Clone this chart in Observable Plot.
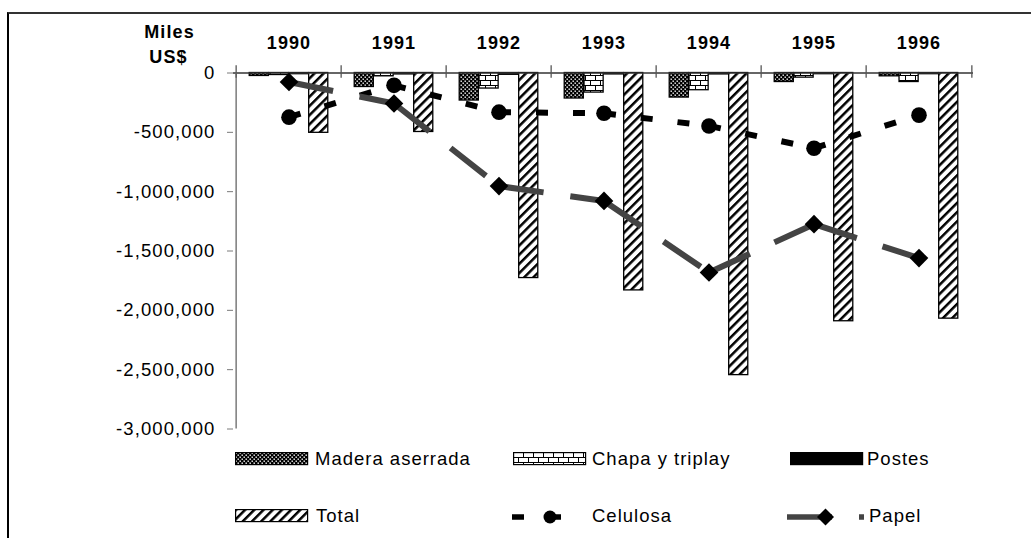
<!DOCTYPE html>
<html><head><meta charset="utf-8">
<script src="https://cdn.jsdelivr.net/npm/d3@7"></script>
<script src="https://cdn.jsdelivr.net/npm/@observablehq/plot@0.6"></script>
<style>
body{margin:0;background:#fff;font-family:Arial,"Liberation Sans",sans-serif;}
#wrap{position:relative;width:1031px;height:538px;overflow:hidden;background:#fff;}
#frame{position:absolute;left:7px;top:12px;width:1040px;height:600px;border-left:2px solid #000;border-top:2px solid #333;pointer-events:none;z-index:5;}
#chart{position:absolute;left:0;top:0;}
.leg{position:absolute;font-size:18.5px;letter-spacing:1px;line-height:24px;color:#000;white-space:nowrap;}
.sw{position:absolute;overflow:visible;}
g[aria-label="y-axis tick"]{stroke:#7a7a7a;}
</style></head>
<body><div id="wrap">
<svg width="0" height="0" style="position:absolute"><defs>
<pattern id="pMadera" patternUnits="userSpaceOnUse" width="4" height="4"><rect width="4" height="4" fill="#000"/><rect x="0.5" y="0.5" width="1.4" height="1.4" fill="#fff"/><rect x="2.5" y="2.5" width="1.4" height="1.4" fill="#fff"/></pattern>
<pattern id="pChapa" patternUnits="userSpaceOnUse" width="10" height="10"><rect width="10" height="10" fill="#fff"/><path d="M0,0.5H10M0,5.5H10M0.5,0V5M5.5,5V10" stroke="#000" stroke-width="1" fill="none"/></pattern>
<pattern id="pTotal" patternUnits="userSpaceOnUse" width="6.5" height="6.5" patternTransform="rotate(45)"><rect width="6.5" height="6.5" fill="#fff"/><rect width="2.5" height="6.5" fill="#000"/></pattern>
</defs></svg>
<div id="chart"></div>
<div id="legend"></div>
<div id="frame"></div>
</div>
<script>
// ---- data ----
const years = ["1990","1991","1992","1993","1994","1995","1996"];
const madera   = [-25000, -118000, -232000, -215000, -207000, -76000, -28000];
const chapa    = [-17000, -28000, -131000, -165000, -145000, -39000, -76000];
const postes   = [-10000, -12000, -15000, -12000, -12000, -10000, -10000];
const total    = [-504000, -497000, -1728000, -1832000, -2546000, -2092000, -2070000];
const celulosa = [-372000, -104000, -330000, -339000, -446000, -634000, -355000];
const papel    = [-76000, -257000, -953000, -1078000, -1681000, -1274000, -1560000];
const seriesNames = ["Madera aserrada","Chapa y triplay","Postes","Total","Celulosa","Papel"];
const yTicks = [0,-500000,-1000000,-1500000,-2000000,-2500000,-3000000];
const unitLines = ["Miles","US$"];

// ---- layout ----
const W = 1031, H = 440, mL = 233, mR = 58, mT = 72.5, mB = 11.5;
const bw = (W - mL - mR) / years.length;
const gap = 0.125, bar = 0.1875;
const barSeries = [madera, chapa, postes, total];
const barFills = ["url(#pMadera)","url(#pChapa)","#000","url(#pTotal)"];
const fmt = d => d3.format(",")(d).replace("\u2212","-");
const rows = vals => years.map((year,i)=>({year, value: vals[i]}));
const segs = vals => d3.range(years.length-1).flatMap(i=>[
  {year: years[i], value: vals[i], seg: i},
  {year: years[i+1], value: vals[i+1], seg: i}
]);

const chart = Plot.plot({
  width: W, height: H,
  marginLeft: mL, marginRight: mR, marginTop: mT, marginBottom: mB,
  style: {background: "transparent", fontFamily: "Arial, 'Liberation Sans', sans-serif", fontSize: "18.5px", letterSpacing: "1.1px", color: "#000", overflow: "visible"},
  x: {type: "band", domain: years, padding: 0, axis: null},
  y: {domain: [yTicks[yTicks.length-1], 0], ticks: yTicks, tickSize: 6, tickPadding: 12, tickFormat: fmt, label: null},
  marks: [
    ...barSeries.map((vals,k) => Plot.barY(rows(vals), {
      x: "year", y: "value", fill: barFills[k], stroke: "#000", strokeWidth: 1.3,
      insetLeft: (gap + bar*k)*bw, insetRight: (1 - gap - bar*(k+1))*bw
    })),
    Plot.ruleY([0], {stroke: "#333", strokeWidth: 1.5}),
    Plot.ruleX([years[0]], {x: d=>d, dx: -bw/2, y1: yTicks[yTicks.length-1], y2: 0, stroke: "#7a7a7a", strokeWidth: 1.5}),
    Plot.ruleX(years, {x: d=>d, dx: -bw/2, y1: -45000, y2: 62000, stroke: "#555", strokeWidth: 1.3}),
    Plot.ruleX([years[years.length-1]], {x: d=>d, dx: bw/2, y1: -45000, y2: 62000, stroke: "#555", strokeWidth: 1.3}),
    Plot.line(segs(celulosa), {x: "year", y: "value", z: "seg", stroke: "#000", strokeWidth: 6, strokeDasharray: "12,25", strokeLinecap: "butt"}),
    Plot.dot(rows(celulosa), {x: "year", y: "value", r: 7.8, fill: "#000"}),
    Plot.line(segs(papel), {x: "year", y: "value", z: "seg", stroke: "#444", strokeWidth: 6, strokeDasharray: "45,27", strokeLinecap: "butt"}),
    Plot.dot(rows(papel), {x: "year", y: "value", symbol: "diamond2", r: 8.4, fill: "#000"}),
    Plot.text(years, {x: d=>d, y: d=>0, dy: -29.5, text: d=>d, fontWeight: "bold", fontSize: 18}),
    Plot.text([unitLines[0]], {frameAnchor: "top-left", dx: 169-mL, dy: 31.5-mT, text: d=>d, textAnchor: "middle", lineAnchor: "middle", fontWeight: "bold", fontSize: 18}),
    Plot.text([unitLines[1]], {frameAnchor: "top-left", dx: 168-mL, dy: 56.5-mT, text: d=>d, textAnchor: "middle", lineAnchor: "middle", fontWeight: "bold", fontSize: 18})
  ]
});
document.getElementById("chart").appendChild(chart);

// ---- legend ----
const NS = "http://www.w3.org/2000/svg";
const leg = document.getElementById("legend");
function mk(tag, attrs){ const e = document.createElementNS(NS, tag); for (const k in attrs) e.setAttribute(k, attrs[k]); return e; }
function label(text, x, cy){ const d = document.createElement("div"); d.className = "leg"; d.style.left = x+"px"; d.style.top = (cy-12)+"px"; d.textContent = text; leg.appendChild(d); }
function rectSwatch(fill, x, cy){
  const s = mk("svg", {width: 74, height: 14, class: "sw"}); s.style.left = x+"px"; s.style.top = (cy-7)+"px";
  s.appendChild(mk("rect", {x: 0.6, y: 0.6, width: 72, height: 12, fill, stroke: "#000", "stroke-width": 1.2}));
  leg.appendChild(s);
}
function lineSwatch(x0, x1, mxAbs, cy, stroke, dash, marker){
  const s = mk("svg", {width: x1-x0+20, height: 30, class: "sw"}); s.style.left = (x0-10)+"px"; s.style.top = (cy-15)+"px";
  s.appendChild(mk("line", {x1: 10, x2: x1-x0+10, y1: 15, y2: 15, stroke, "stroke-width": 5.5, "stroke-dasharray": dash}));
  const mx = mxAbs - x0 + 10;
  if (marker === "circle") s.appendChild(mk("circle", {cx: mx, cy: 15, r: 6.5, fill: "#000"}));
  else s.appendChild(mk("path", {d: `M${mx},6.5L${mx+8.5},15L${mx},23.5L${mx-8.5},15Z`, fill: "#000"}));
  leg.appendChild(s);
}
const row1 = 459, row2 = 516;
rectSwatch(barFills[0], 235, row1); label(seriesNames[0], 315, row1);
rectSwatch(barFills[1], 513, row1); label(seriesNames[1], 592, row1);
rectSwatch(barFills[2], 790, row1); label(seriesNames[2], 867, row1);
rectSwatch(barFills[3], 235, row2); label(seriesNames[3], 316, row2);
lineSwatch(512, 570, 550, row2+1, "#000", "12,25", "circle"); label(seriesNames[4], 592, row2);
lineSwatch(787, 864, 825.5, row2+0.5, "#444", "45,27", "diamond"); label(seriesNames[5], 869, row2);
</script>
</body></html>
